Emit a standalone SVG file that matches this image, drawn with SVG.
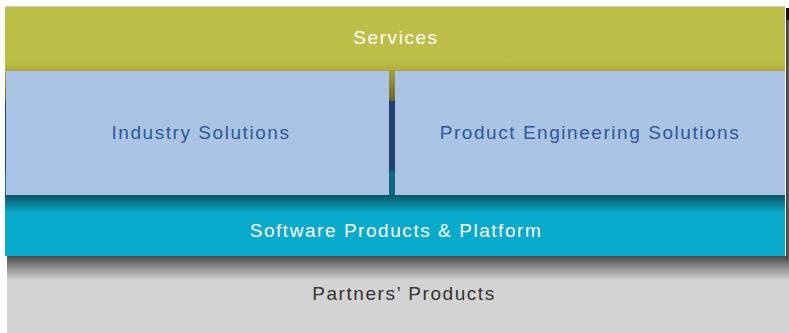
<svg xmlns="http://www.w3.org/2000/svg" width="789" height="333" viewBox="0 0 789 333">
<defs>
<style>
.t{font-family:"Liberation Sans","DejaVu Sans",sans-serif;font-size:19px;letter-spacing:1.55px;text-anchor:middle}
.w{fill:#ffffff}
.b{fill:#2a5898}
.g{fill:#333333}
</style>
<linearGradient id="back" x1="0" y1="60" x2="0" y2="200" gradientUnits="userSpaceOnUse">
<stop offset="0" stop-color="#b3b042"/>
<stop offset="0.07" stop-color="#a8a23c"/>
<stop offset="0.28" stop-color="#6e6a2c"/>
<stop offset="0.3" stop-color="#1f3f6a"/>
<stop offset="0.78" stop-color="#1f3f6a"/>
<stop offset="0.8" stop-color="#0f6b7f"/>
<stop offset="1" stop-color="#0f6b7f"/>
</linearGradient>
<linearGradient id="svcsh" x1="0" y1="60" x2="0" y2="71" gradientUnits="userSpaceOnUse">
<stop offset="0" stop-color="#bdbe47" stop-opacity="0"/>
<stop offset="1" stop-color="#a7a43a"/>
</linearGradient>
<linearGradient id="swsh" x1="0" y1="195" x2="0" y2="213" gradientUnits="userSpaceOnUse">
<stop offset="0" stop-color="#0b5466"/>
<stop offset="0.5" stop-color="#0a8198"/>
<stop offset="1" stop-color="#08aacc"/>
</linearGradient>
<linearGradient id="ptsh" x1="0" y1="256" x2="0" y2="280" gradientUnits="userSpaceOnUse">
<stop offset="0" stop-color="#4a4a4a"/>
<stop offset="0.45" stop-color="#8a8a8a"/>
<stop offset="1" stop-color="#d3d3d3"/>
</linearGradient>
<linearGradient id="rsh" x1="786" y1="0" x2="789" y2="0" gradientUnits="userSpaceOnUse">
<stop offset="0" stop-color="#3a3a3a"/>
<stop offset="1" stop-color="#666666"/>
</linearGradient>
</defs>
<rect x="0" y="0" width="789" height="333" fill="#ffffff"/>
<g id="partners">
<rect x="7" y="256" width="782" height="77" fill="#d3d3d3"/>
<rect x="7" y="256" width="782" height="24" fill="url(#ptsh)"/>
<text class="t g" x="404" y="300">Partners’ Products</text>
</g>
<g id="right-shadow">
<rect x="786" y="8" width="3" height="252" fill="url(#rsh)"/>
<rect x="786" y="8" width="3" height="12" fill="#111111"/>
</g>
<g id="backdrop">
<rect x="5" y="60" width="780" height="140" fill="url(#back)"/>
</g>
<g id="services">
<rect x="5" y="6" width="780" height="1" fill="#cccccc"/>
<rect x="5" y="7" width="780" height="64" fill="#bdbe47"/>
<rect x="5" y="60" width="780" height="11" fill="url(#svcsh)"/>
<text class="t w" x="396" y="44">Services</text>
</g>
<g id="industry">
<rect x="6" y="71" width="383" height="124" fill="#abc4e5"/>
<text class="t b" x="201" y="139">Industry Solutions</text>
</g>
<g id="product">
<rect x="395" y="71" width="390" height="124" fill="#abc4e5"/>
<text class="t b" x="590" y="139">Product Engineering Solutions</text>
</g>
<g id="software">
<rect x="5" y="195" width="780" height="61" fill="#08aacc"/>
<rect x="5" y="195" width="780" height="18" fill="url(#swsh)"/>
<text class="t w" x="396" y="237">Software Products &amp; Platform</text>
</g>
<g id="connectors"/>
</svg>
